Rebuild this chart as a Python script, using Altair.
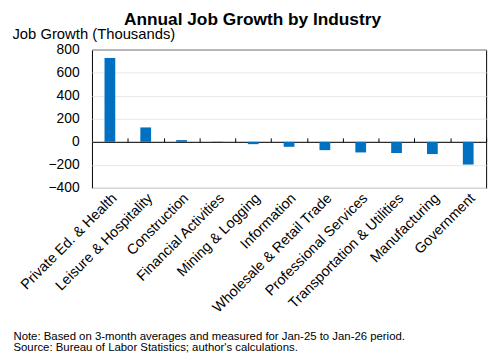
import altair as alt
import pandas as pd

industries = [
    "Private Ed. & Health", "Leisure & Hospitality", "Construction",
    "Financial Activities", "Mining & Logging", "Information",
    "Wholesale & Retail Trade", "Professional  Services",
    "Transportation & Utilities", "Manufacturing", "Government",
]
growth = [728, 125, 15, 2, -20, -43, -72, -92, -97, -106, -197]
y_ticks = [-400, -200, 0, 200, 400, 600, 800]

df = pd.DataFrame({"industry": industries, "growth": growth})

W, H = 399, 140
zero_off = -(800 / 1200 * H)
step = W / len(industries)

font = "Liberation Sans"

x_bottom = alt.X(
    "industry:N", sort=industries,
    scale=alt.Scale(paddingInner=0.7, paddingOuter=0.35),
    axis=alt.Axis(
        orient="bottom", domain=False, ticks=False, labelAngle=-45,
        labelAlign="right", labelBaseline="top", labelPadding=3,
        labelFont=font, labelFontSize=14.5, labelColor="black",
        labelLimit=300,
        title=["Note: Based on 3-month averages and measured for Jan-25 to Jan-26 period.",
               "Source: Bureau of Labor Statistics; author's calculations."],
        titleFont=font, titleFontSize=11.5, titleFontWeight="normal",
        titleColor="black", titleAngle=0, titleAlign="left",
        titleBaseline="alphabetic", titleX=-80, titleY=153, titleLineHeight=12,
        titleAnchor="start",
    ),
)

y_enc = alt.Y(
    "growth:Q",
    scale=alt.Scale(domain=[-400, 800], nice=False),
    axis=alt.Axis(
        values=y_ticks, domain=False, ticks=False, grid=True,
        gridColor="#e8e8e8", labelFont=font, labelFontSize=14,
        labelColor="black", labelPadding=13, labelOverlap=False,
        title="Job Growth (Thousands)", titleFont=font, titleFontSize=15,
        titleFontWeight="normal", titleColor="black", titleAngle=0,
        titleAlign="left", titleBaseline="alphabetic", titleX=-81, titleY=-11,
    ),
)

bars = alt.Chart(df).mark_bar(color="#0070C0").encode(x=x_bottom, y=y_enc)

x_top = alt.X(
    "industry:N", sort=industries,
    axis=alt.Axis(
        orient="top", offset=zero_off, domain=True, domainColor="black",
        domainWidth=1, ticks=True, tickColor="black", tickSize=4,
        tickOffset=step / 2, labels=False, title=None,
    ),
)
zero_axis = alt.Chart(df).mark_bar(opacity=0).encode(x=x_top)

chart = (
    alt.layer(bars, zero_axis)
    .resolve_axis(x="independent")
    .properties(
        width=W, height=H,
        autosize=alt.AutoSizeParams(type="none"),
        padding={"left": 85, "top": 40, "right": 10, "bottom": 170},
        title=alt.TitleParams(
            "Annual Job Growth by Industry", font=font, fontSize=17.5,
            fontWeight="bold", color="black", anchor="middle", dx=-37,
            offset=-2,
        ),
    )
    .configure_view(stroke="black", strokeWidth=1)
)

chart.save("out.html", embed_options={"renderer": "svg", "actions": False})
